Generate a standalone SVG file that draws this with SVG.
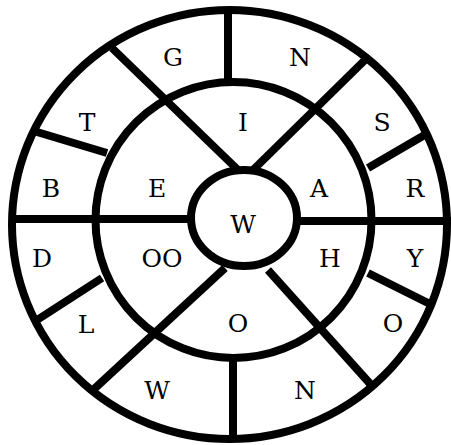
<svg xmlns="http://www.w3.org/2000/svg" width="451" height="445" viewBox="0 0 451 445">
<style>
.ring{fill:none;stroke:#000;stroke-width:8}
.ln{stroke:#000;stroke-width:8;stroke-linecap:butt}
text{font-family:"DejaVu Serif","Liberation Serif",serif;font-size:25px;fill:#000;text-anchor:middle}
</style>
<rect width="451" height="445" fill="#fff"/>
<g id="connectors">
<line class="ln" x1="228" y1="12" x2="228" y2="82"/>
<line class="ln" x1="233" y1="358" x2="233" y2="440"/>
<line class="ln" x1="14" y1="219" x2="191" y2="219"/>
<line class="ln" x1="297" y1="221" x2="451" y2="221"/>
<line class="ln" x1="112" y1="48" x2="238" y2="170"/>
<line class="ln" x1="367" y1="58" x2="253" y2="170"/>
<line class="ln" x1="93" y1="390" x2="225" y2="268"/>
<line class="ln" x1="268" y1="270" x2="373" y2="387"/>
<line class="ln" x1="37" y1="132" x2="107" y2="153"/>
<line class="ln" x1="428" y1="133" x2="368" y2="168"/>
<line class="ln" x1="37" y1="320" x2="102" y2="278"/>
<line class="ln" x1="368" y1="273" x2="432" y2="305"/>
</g>
<g id="outer"><ellipse class="ring" cx="229.5" cy="224.5" rx="217.5" ry="214.5"/></g>
<g id="middle"><ellipse class="ring" cx="233.5" cy="220" rx="138" ry="138"/></g>
<g id="inner"><ellipse class="ring" cx="244" cy="218" rx="53" ry="48"/>
<text x="243" y="233">W</text></g>
<g id="labels">
<text x="173" y="66">G</text>
<text x="300" y="66">N</text>
<text x="87" y="131">T</text>
<text x="243" y="131">I</text>
<text x="382" y="131">S</text>
<text x="51" y="197">B</text>
<text x="157" y="197">E</text>
<text x="319" y="197">A</text>
<text x="415" y="197">R</text>
<text x="42" y="267">D</text>
<text x="162" y="267">OO</text>
<text x="330" y="267">H</text>
<text x="415" y="267">Y</text>
<text x="86" y="333">L</text>
<text x="238" y="332">O</text>
<text x="393" y="332">O</text>
<text x="157" y="399">W</text>
<text x="305" y="399">N</text>
</g>
</svg>
